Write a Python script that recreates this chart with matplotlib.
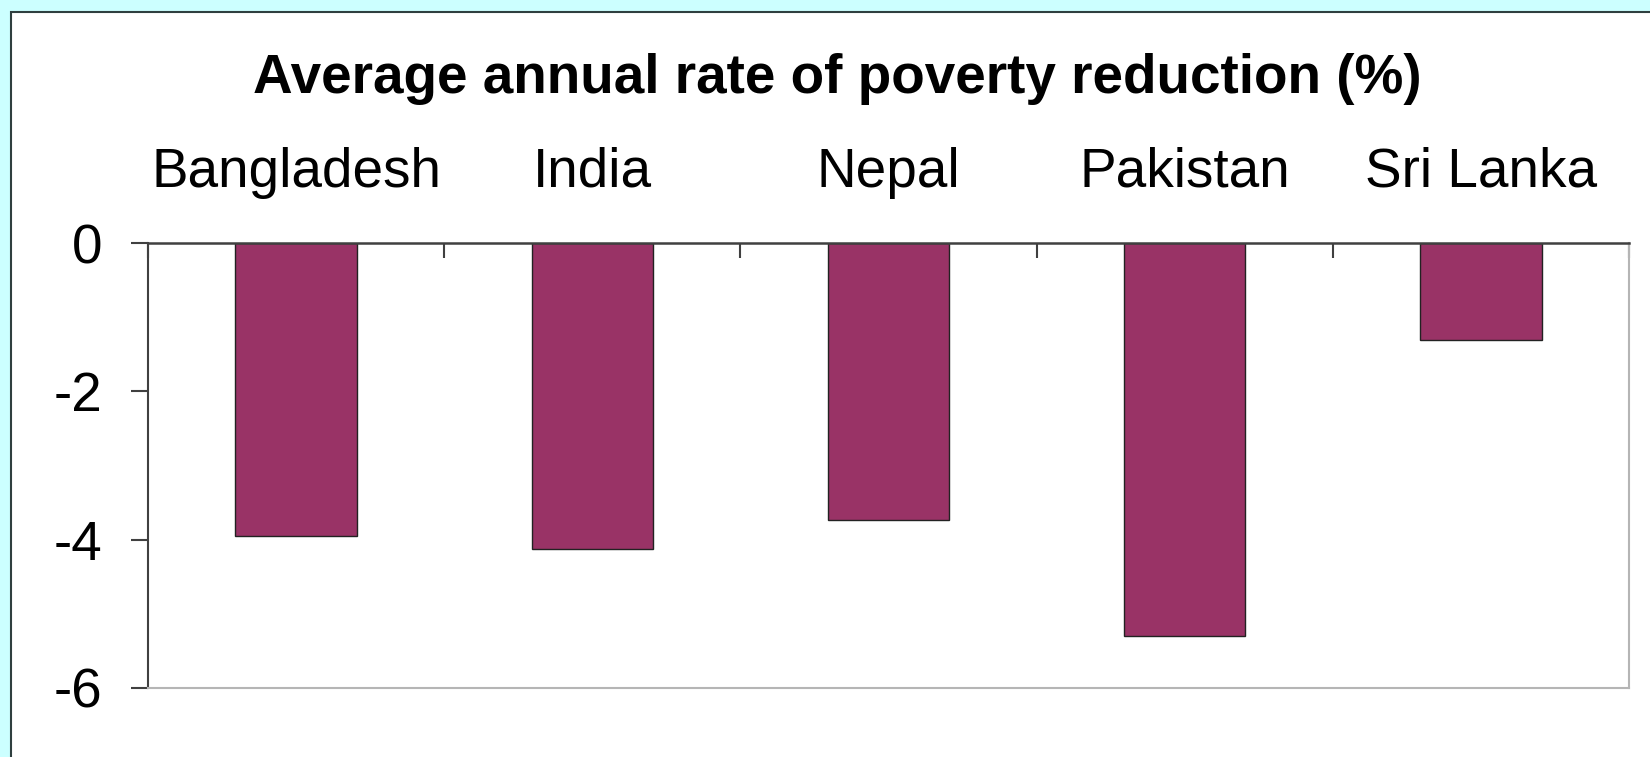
import matplotlib
matplotlib.use("Agg")
import matplotlib.pyplot as plt
from matplotlib.patches import Rectangle

countries = ["Bangladesh", "India", "Nepal", "Pakistan", "Sri Lanka"]
rates = [-3.95, -4.12, -3.73, -5.30, -1.31]
yticks = [0, -2, -4, -6]

plt.rcParams['font.family'] = ['Liberation Sans', 'DejaVu Sans']
plt.rcParams['axes.unicode_minus'] = False

W, H = 1650, 757
fig = plt.figure(figsize=(W / 100, H / 100), dpi=100)
fig.patch.set_facecolor('#ccffff')

# white panel with dark border
panel = Rectangle((11 / W, -0.05), 1.1, 1 - 12 / H + 0.05, transform=fig.transFigure,
                  facecolor='white', edgecolor='#2f3f3f', linewidth=1.5, zorder=-10)
fig.patches.append(panel)

ax = fig.add_axes([148 / W, 1 - 688 / H, (1629 - 148) / W, (688 - 243) / H])
ax.set_facecolor('white')

x = list(range(len(countries)))
ax.bar(x, rates, width=0.41, color='#993366', edgecolor='#222222', linewidth=1.0, zorder=2)

ax.set_xlim(-0.5, len(countries) - 0.5)
ax.set_ylim(-6, 0)

# category labels on top, ticks at boundaries
ax.xaxis.tick_top()
ax.set_xticks([i - 0.5 for i in range(len(countries) + 1)])
ax.set_xticklabels([])
ax.set_xticks(x, minor=True)
ax.set_xticklabels(countries, minor=True, fontsize=39.5)
ax.tick_params(axis='x', which='major', direction='in', length=11, width=1.5, color='#404040')
ax.tick_params(axis='x', which='minor', length=0, pad=32)

ax.set_yticks(yticks)
ax.set_yticklabels([str(v) for v in yticks], fontsize=39.5)
ax.tick_params(axis='y', direction='out', length=12, width=1.5, color='#404040', pad=21)

ax.spines['top'].set_color('#404040')
ax.spines['top'].set_linewidth(1.8)
ax.spines['left'].set_color('#404040')
ax.spines['left'].set_linewidth(1.5)
ax.spines['bottom'].set_color('#b5b5b5')
ax.spines['bottom'].set_linewidth(1.5)
ax.spines['right'].set_color('#b5b5b5')
ax.spines['right'].set_linewidth(1.5)

fig.text(837 / W, 1 - 93 / H, "Average annual rate of poverty reduction (%)",
         ha='center', va='baseline', fontsize=39.5, fontweight='bold')

fig.savefig("out.png", dpi=100, facecolor=fig.get_facecolor())
